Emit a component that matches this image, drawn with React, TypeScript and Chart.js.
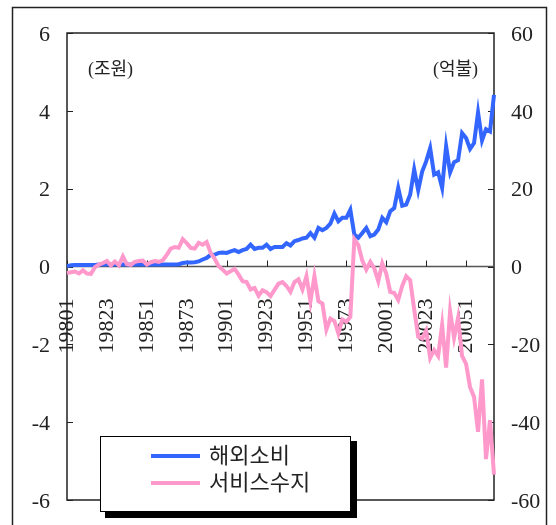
import React, { useEffect, useRef } from 'react';
import { Chart, registerables } from 'chart.js';

Chart.register(...registerables);

// Quarterly categories 1980Q1 .. 2006Q4, written as YYYYQ (e.g. 19801)
const START_YEAR = 1980;
const QUARTER_COUNT = 108;
const categories: string[] = Array.from(
  { length: QUARTER_COUNT },
  (_, i) => `${START_YEAR + Math.floor(i / 4)}${(i % 4) + 1}`
);

const seriesNames = ['해외소비', '서비스수지'];
const unitLabels = ['(조원)', '(억불)'];

// 해외소비 (left axis, 조원)
const overseasConsumption = [
  0.01, 0.03, 0.04, 0.04, 0.04, 0.04, 0.04, 0.04, 0.05, 0.05,
  0.05, 0.05, 0.05, 0.05, 0.05, 0.05, 0.05, 0.05, 0.05, 0.05,
  0.05, 0.05, 0.05, 0.05, 0.05, 0.05, 0.05, 0.05, 0.06, 0.09,
  0.1, 0.1, 0.11, 0.13, 0.18, 0.22, 0.3, 0.3, 0.35, 0.36,
  0.35, 0.39, 0.42, 0.37, 0.42, 0.45, 0.56, 0.45, 0.48, 0.48,
  0.56, 0.45, 0.5, 0.5, 0.5, 0.6, 0.54, 0.65, 0.68, 0.72,
  0.74, 0.86, 0.74, 0.99, 0.93, 0.99, 1.1, 1.36, 1.16, 1.25,
  1.25, 1.46, 0.82, 0.74, 0.86, 0.99, 0.78, 0.82, 0.95, 1.25,
  1.14, 1.42, 1.5, 2.02, 1.56, 1.59, 1.85, 2.49, 1.96, 2.44,
  2.7, 3.04, 2.36, 2.42, 2.02, 3.09, 2.42, 2.68, 2.73, 3.43,
  3.3, 3.02, 3.17, 3.96, 3.24, 3.53, 3.47, 4.41,
];

// 서비스수지 (right axis, 억불)
const serviceBalance = [
  -1.7, -1.5, -1.3, -1.8, -1.0, -1.8, -1.9, -0.2, 0.5, 0.9,
  1.4, 0.3, 1.3, 0.3, 2.6, 0.6, 0.4, 1.2, 1.4, 1.5,
  0.5, 1.1, 1.4, 1.2, 1.6, 3.0, 4.6, 5.0, 4.8, 7.0,
  6.0, 4.8, 4.6, 6.1, 5.6, 6.3, 3.5, 2.0, 0.1, -0.8,
  -1.8, -1.2, -0.6, -2.1, -3.8, -4.0, -5.9, -5.5, -7.5, -6.1,
  -6.6, -7.6, -6.0, -4.4, -4.0, -5.0, -6.5, -4.0, -3.3, -5.9,
  -2.5, -9.0, -2.5, -8.9, -9.5, -16.2, -13.4, -14, -17.2, -13.6,
  -14.2, -13, 7.0, 5.5, 1.5, -0.8, 1.2, -0.5, -3.8, 0.8,
  -1.8, -6.5, -6.8, -8.6, -5.0, -2.5, -3.5, -11, -18, -18.5,
  -16.5, -23.5, -21.5, -23, -15, -26, -11.5, -18.3, -13.2, -23,
  -25, -31, -33.5, -42.5, -29, -49.5, -39.5, -53.5,
];

const LEFT_MIN = -6;
const LEFT_MAX = 6;
const LEFT_STEP = 2;
const RIGHT_MIN = -60;
const RIGHT_MAX = 60;
const RIGHT_STEP = 20;
const LABEL_EVERY = 10;

const BLUE = '#3366FF';
const PINK = '#FF99CC';
const INK = '#222222';
const SERIF = "'Liberation Serif', 'Noto Sans CJK KR', serif";
const TICK_FONT = { family: SERIF, size: 22 };

const decorPlugin = {
  id: 'decor',
  beforeDraw(chart: any) {
    const { ctx, width, height } = chart;
    ctx.save();
    ctx.fillStyle = '#ffffff';
    ctx.fillRect(0, 0, width, height);
    ctx.restore();
  },
  beforeDatasetsDraw(chart: any) {
    const { ctx, chartArea: ca, scales } = chart;
    ctx.save();
    // plot box
    ctx.strokeStyle = INK;
    ctx.lineWidth = 1.5;
    ctx.strokeRect(ca.left, ca.top, ca.right - ca.left, ca.bottom - ca.top);
    // zero line
    const y0 = scales.y.getPixelForValue(0);
    ctx.strokeStyle = '#555555';
    ctx.lineWidth = 1.5;
    ctx.beginPath();
    ctx.moveTo(ca.left, y0);
    ctx.lineTo(ca.right, y0);
    ctx.stroke();
    // inward ticks on y axes
    ctx.strokeStyle = INK;
    ctx.lineWidth = 1;
    for (let v = LEFT_MIN; v <= LEFT_MAX; v += LEFT_STEP) {
      const py = Math.round(scales.y.getPixelForValue(v)) + 0.5;
      ctx.beginPath();
      ctx.moveTo(ca.left, py);
      ctx.lineTo(ca.left + 6, py);
      ctx.stroke();
    }
    for (let v = RIGHT_MIN; v <= RIGHT_MAX; v += RIGHT_STEP) {
      const py = Math.round(scales.y1.getPixelForValue(v)) + 0.5;
      ctx.beginPath();
      ctx.moveTo(ca.right, py);
      ctx.lineTo(ca.right - 6, py);
      ctx.stroke();
    }
    // upward ticks on the zero axis
    for (let i = 0; i < categories.length; i += LABEL_EVERY) {
      const px = Math.round(scales.x.getPixelForValue(i)) + 0.5;
      ctx.beginPath();
      ctx.moveTo(px, y0);
      ctx.lineTo(px, y0 - 6);
      ctx.stroke();
    }
    ctx.restore();
  },
  afterDraw(chart: any) {
    const { ctx, chartArea: ca, data } = chart;
    ctx.save();
    // outer frame
    ctx.strokeStyle = INK;
    ctx.lineWidth = 1.5;
    ctx.strokeRect(12.5, 7.5, 534, 520);

    // unit labels
    ctx.fillStyle = INK;
    ctx.font = `18px ${SERIF}`;
    ctx.textBaseline = 'middle';
    ctx.textAlign = 'left';
    ctx.fillText(unitLabels[0], ca.left + 21, ca.top + 37);
    ctx.textAlign = 'right';
    ctx.fillText(unitLabels[1], ca.right - 16, ca.top + 37);

    // legend with shadow
    const bx = ca.left + 33;
    const by = ca.bottom - 64;
    const bw = 250;
    const bh = 75;
    ctx.fillStyle = '#000000';
    ctx.fillRect(bx + 5, by + 5, bw + 2, bh + 2);
    ctx.fillStyle = '#ffffff';
    ctx.fillRect(bx, by, bw, bh);
    ctx.strokeStyle = '#000000';
    ctx.lineWidth = 1;
    ctx.strokeRect(bx + 0.5, by + 0.5, bw, bh);
    ctx.font = `22px ${SERIF}`;
    ctx.textAlign = 'left';
    ctx.textBaseline = 'middle';
    data.datasets.forEach((ds: any, k: number) => {
      const ly = by + 20 + k * 27;
      ctx.strokeStyle = ds.borderColor;
      ctx.lineWidth = 4;
      ctx.beginPath();
      ctx.moveTo(bx + 51, ly);
      ctx.lineTo(bx + 100, ly);
      ctx.stroke();
      ctx.fillStyle = INK;
      ctx.fillText(ds.label, bx + 109, ly + 1);
    });
    ctx.restore();
  },
};

const noVerticalPadding = (s: any, w: number) => {
  s.width = w;
  s.paddingTop = 0;
  s.paddingBottom = 0;
};

export default function App() {
  const ref = useRef<HTMLCanvasElement>(null);
  useEffect(() => {
    if (!ref.current) return;
    const chart = new Chart(ref.current, {
      type: 'line',
      data: {
        labels: categories,
        datasets: [
          {
            label: seriesNames[0],
            data: overseasConsumption,
            yAxisID: 'y',
            borderColor: BLUE,
            backgroundColor: BLUE,
            borderWidth: 4,
            pointRadius: 0,
            tension: 0,
            order: 1,
          },
          {
            label: seriesNames[1],
            data: serviceBalance,
            yAxisID: 'y1',
            borderColor: PINK,
            backgroundColor: PINK,
            borderWidth: 4,
            pointRadius: 0,
            tension: 0,
            order: 0,
          },
        ],
      },
      options: {
        responsive: false,
        animation: false,
        events: [],
        layout: { padding: { top: 33, bottom: 25, left: 0, right: 0 } },
        plugins: { legend: { display: false }, tooltip: { enabled: false } },
        scales: {
          x: {
            type: 'category',
            position: { y: 0 } as any,
            grid: { display: false, drawTicks: false },
            border: { display: false },
            ticks: {
              autoSkip: false,
              maxRotation: 90,
              minRotation: 90,
              padding: 32,
              color: INK,
              font: TICK_FONT,
              callback: (_v: any, i: number) => (i % LABEL_EVERY === 0 ? categories[i] : null),
            },
          },
          y: {
            position: 'left',
            min: LEFT_MIN,
            max: LEFT_MAX,
            grid: { display: false, drawTicks: false },
            border: { display: false },
            ticks: { stepSize: LEFT_STEP, padding: 17, labelOffset: 2, color: INK, font: TICK_FONT },
            afterFit: (s: any) => noVerticalPadding(s, 67),
          },
          y1: {
            position: 'right',
            min: RIGHT_MIN,
            max: RIGHT_MAX,
            grid: { display: false, drawTicks: false },
            border: { display: false },
            ticks: { stepSize: RIGHT_STEP, padding: 17, labelOffset: 2, color: INK, font: TICK_FONT },
            afterFit: (s: any) => noVerticalPadding(s, 62),
          },
        },
      },
      plugins: [decorPlugin],
    });
    return () => chart.destroy();
  }, []);
  return (
    <div style={{ position: 'fixed', left: 0, top: 0, width: 556, height: 525, background: '#fff' }}>
      <canvas ref={ref} width={556} height={525} style={{ display: 'block' }} />
    </div>
  );
}
